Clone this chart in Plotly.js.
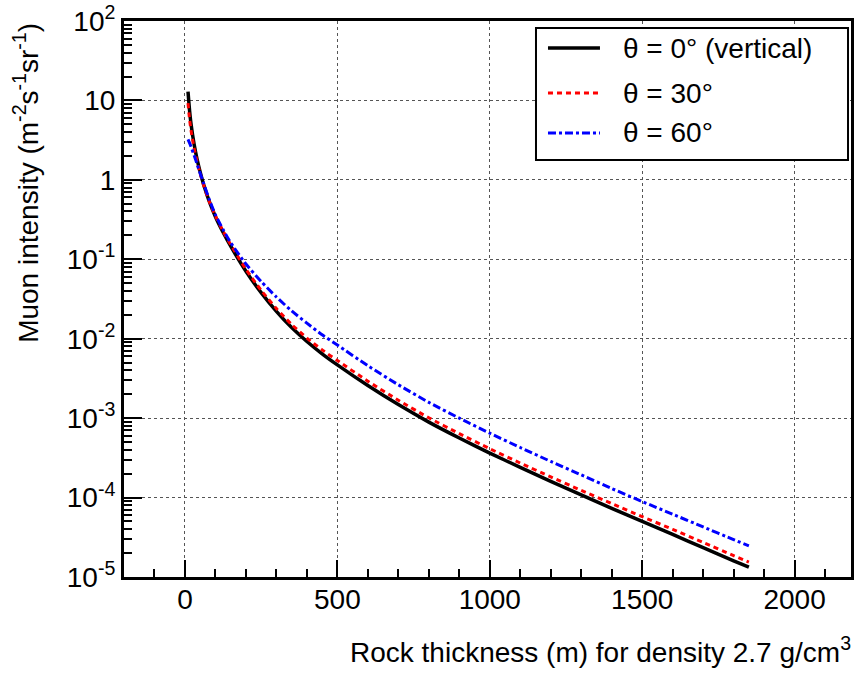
<!DOCTYPE html>
<html>
<head>
<meta charset="utf-8">
<script src="https://cdn.plot.ly/plotly-3.0.1.min.js"></script>
<style>html,body{margin:0;padding:0;background:#fff;}#chart{width:859px;height:675px;}</style>
</head>
<body>
<div id="chart"></div>
<script>
// Rock thickness (m)
var thickness = [10,15,20,30,40,50,60,80,100,125,150,200,250,300,350,400,450,500,600,700,800,900,1000,1100,1200,1300,1400,1500,1600,1700,1800,1850];
// Muon intensity (m^-2 s^-1 sr^-1)
var theta0 = [12.88,7.50,5.01,2.805,1.803,1.250,0.906,0.531,0.344,0.219,0.146,0.0708,0.0380,0.0221,0.0138,0.00923,0.00646,0.00468,0.00257,0.00148,8.91e-4,5.62e-4,3.63e-4,2.40e-4,1.60e-4,1.08e-4,7.33e-5,5.01e-5,3.43e-5,2.34e-5,1.60e-5,1.33e-5];
var theta30 = [9.23,5.82,4.17,2.50,1.683,1.194,0.885,0.531,0.352,0.226,0.153,0.0750,0.0407,0.0240,0.0151,0.0102,0.00724,0.00531,0.00292,0.00168,1.01e-3,6.38e-4,4.12e-4,2.72e-4,1.82e-4,1.23e-4,8.41e-5,5.75e-5,3.98e-5,2.72e-5,1.86e-5,1.54e-5];
var theta60 = [3.24,2.92,2.60,2.04,1.567,1.202,0.933,0.562,0.363,0.237,0.162,0.0871,0.0525,0.0335,0.0224,0.0157,0.0112,0.00832,0.00457,0.00263,0.00158,1.00e-3,6.46e-4,4.27e-4,2.85e-4,1.93e-4,1.30e-4,8.91e-5,6.17e-5,4.27e-5,2.95e-5,2.47e-5];
var seriesNames = ["\u03b8 = 0\u00b0 (vertical)", "\u03b8 = 30\u00b0", "\u03b8 = 60\u00b0"];
var seriesColors = ["#000000", "#ff0000", "#0000ff"];
var seriesDash = ["solid", "5px,4px", "8px,3px,3px,3px"];
var seriesWidth = [3.5, 3, 3];
var yTickVals = [100,10,1,0.1,0.01,0.001,0.0001,0.00001];
var yTickText = ["10<sup>2</sup>","10","1","10<sup>-1</sup>","10<sup>-2</sup>","10<sup>-3</sup>","10<sup>-4</sup>","10<sup>-5</sup>"];

var minorY = [];
for (var d = -5; d < 2; d++) { for (var k = 2; k <= 9; k++) { minorY.push(k * Math.pow(10, d)); } }

var FONT = "Liberation Sans, Arial, sans-serif";
var ys = [theta0, theta30, theta60];

var traces = ys.map(function (y, i) {
  return {x: thickness, y: y, name: seriesNames[i], mode: "lines", showlegend: false,
          line: {color: seriesColors[i], width: seriesWidth[i], dash: seriesDash[i], shape: "spline", smoothing: 0.6}};
});

// Legend box (ROOT-style TLegend), in paper coordinates
var legBox = {x0: 0.5667, x1: 0.9959, y0: 0.750, y1: 0.9874};
var legRowY = [0.9514, 0.8705, 0.7986];
var shapes = [{type: "rect", xref: "paper", yref: "paper", x0: legBox.x0, x1: legBox.x1, y0: legBox.y0, y1: legBox.y1,
               line: {color: "#000", width: 2}, fillcolor: "#ffffff", layer: "above"}];
var annotations = [];
for (var i = 0; i < 3; i++) {
  shapes.push({type: "line", xref: "paper", yref: "paper", x0: 0.5832, x1: 0.6547, y0: legRowY[i], y1: legRowY[i],
               line: {color: seriesColors[i], width: seriesWidth[i], dash: seriesDash[i]}, layer: "above"});
  annotations.push({text: seriesNames[i], xref: "paper", yref: "paper", x: 0.684, y: legRowY[i],
                    xanchor: "left", yanchor: "middle", showarrow: false,
                    font: {family: FONT, size: 28, color: "#000"}});
}
annotations.push({text: "Rock thickness (m) for density 2.7 g/cm<sup>3</sup>", xref: "paper", yref: "paper",
     x: 1.003, y: -0.131, xanchor: "right", yanchor: "middle", showarrow: false,
     font: {family: FONT, size: 28, color: "#000"}});
annotations.push({text: "Muon intensity (m<sup>-2</sup>s<sup>-1</sup>sr<sup>-1</sup>)", xref: "paper", yref: "paper",
     x: -0.135, y: 1.0, xanchor: "center", yanchor: "top", textangle: -90, showarrow: false,
     font: {family: FONT, size: 28, color: "#000"}});

var layout = {
  width: 859, height: 675,
  margin: {l: 124, r: 8, t: 21, b: 98},
  paper_bgcolor: "#ffffff", plot_bgcolor: "#ffffff",
  font: {family: FONT, size: 28, color: "#000"},
  showlegend: false,
  xaxis: {
    range: [-200, 2185],
    tick0: 0, dtick: 500,
    ticks: "inside", ticklen: 17, tickwidth: 2, tickcolor: "#000",
    ticklabelstandoff: -5,
    showline: true, linewidth: 3, linecolor: "#000", mirror: true,
    showgrid: true, gridcolor: "#555", gridwidth: 1, griddash: "dot",
    zeroline: false,
    tickfont: {family: FONT, size: 28},
    minor: {dtick: 100, tick0: 0, ticks: "inside", ticklen: 8, tickwidth: 2, tickcolor: "#000", showgrid: false}
  },
  yaxis: {
    type: "log", range: [-5, 2],
    tickmode: "array", tickvals: yTickVals, ticktext: yTickText,
    ticks: "inside", ticklen: 18, tickwidth: 2, tickcolor: "#000",
    showline: true, linewidth: 3, linecolor: "#000", mirror: true,
    showgrid: true, gridcolor: "#555", gridwidth: 1, griddash: "dot",
    zeroline: false,
    tickfont: {family: FONT, size: 28},
    minor: {tickmode: "array", tickvals: minorY, ticks: "inside", ticklen: 8, tickwidth: 2, tickcolor: "#000", showgrid: false}
  },
  shapes: shapes,
  annotations: annotations
};

Plotly.newPlot("chart", traces, layout, {staticPlot: true, displayModeBar: false});
</script>
</body>
</html>
